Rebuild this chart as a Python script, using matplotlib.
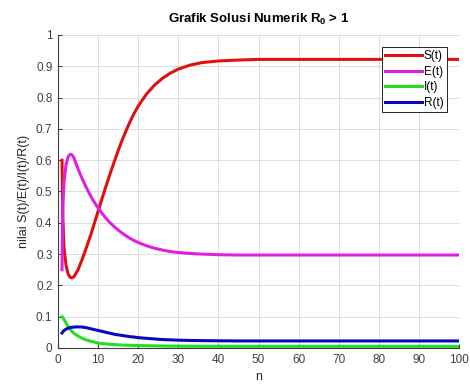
import numpy as np
import matplotlib
matplotlib.use("Agg")
import matplotlib.pyplot as plt

plt.rcParams['font.family'] = ['Liberation Sans', 'DejaVu Sans']
plt.rcParams['mathtext.fontset'] = 'custom'
plt.rcParams['mathtext.bf'] = 'Liberation Sans:bold'
plt.rcParams['mathtext.rm'] = 'Liberation Sans'

# time steps (denser near the start, where things change fast)
n = [1, 1.2, 1.5, 2, 2.5, 3, 3.5, 4, 5, 6, 7, 8, 9, 10, 11, 12, 13, 14, 15, 16,
     17, 18, 19, 20, 22, 24, 26, 28, 30, 33, 36, 40, 45, 50, 60, 70, 80, 90, 100]

S = [0.600, 0.420, 0.320, 0.265, 0.237, 0.226, 0.224, 0.228, 0.250, 0.282,
     0.318, 0.355, 0.395, 0.437, 0.478, 0.518, 0.557, 0.594, 0.630, 0.664,
     0.695, 0.724, 0.750, 0.773, 0.810, 0.839, 0.861, 0.878, 0.891, 0.904,
     0.912, 0.917, 0.920, 0.922, 0.922, 0.922, 0.922, 0.922, 0.922]

E = [0.250, 0.450, 0.530, 0.585, 0.610, 0.619, 0.617, 0.607, 0.572, 0.542,
     0.514, 0.489, 0.467, 0.447, 0.430, 0.414, 0.400, 0.388, 0.377, 0.367,
     0.358, 0.350, 0.343, 0.337, 0.327, 0.319, 0.313, 0.308, 0.305, 0.302,
     0.300, 0.298, 0.297, 0.297, 0.297, 0.297, 0.297, 0.297, 0.297]

I = [0.100, 0.097, 0.091, 0.080, 0.069, 0.060, 0.053, 0.047, 0.038, 0.031,
     0.026, 0.022, 0.019, 0.016, 0.014, 0.013, 0.012, 0.011, 0.010, 0.0095,
     0.009, 0.0085, 0.008, 0.0078, 0.0072, 0.0068, 0.0064, 0.0061, 0.0058, 0.0055,
     0.0053, 0.0051, 0.005, 0.005, 0.005, 0.005, 0.005, 0.005, 0.005]

R = [0.048, 0.052, 0.056, 0.060, 0.063, 0.065, 0.066, 0.067, 0.0675, 0.067,
     0.065, 0.062, 0.059, 0.056, 0.053, 0.050, 0.047, 0.044, 0.042, 0.040,
     0.038, 0.036, 0.035, 0.033, 0.031, 0.029, 0.027, 0.026, 0.025, 0.024,
     0.0235, 0.023, 0.0225, 0.0225, 0.0225, 0.0225, 0.0225, 0.0225, 0.0225]

xticks = np.arange(0, 101, 10)
yticks = [0, 0.1, 0.2, 0.3, 0.4, 0.5, 0.6, 0.7, 0.8, 0.9, 1]
ytick_labels = ['0', '0.1', '0.2', '0.3', '0.4', '0.5', '0.6', '0.7', '0.8', '0.9', '1']

fig = plt.figure(figsize=(4.7, 3.87), dpi=100)
ax = fig.add_axes([0.1234, 0.1008, 0.8532, 0.8088])

ax.plot(n, S, color='#e01010', lw=2.2, label='S(t)')
ax.plot(n, E, color='#e020e0', lw=2.2, label='E(t)')
ax.plot(n, I, color='#20e020', lw=2.2, label='I(t)')
ax.plot(n, R, color='#0808c0', lw=2.2, label='R(t)')

ax.set_xlim(0, 100)
ax.set_ylim(0, 1)
ax.set_xticks(xticks)
ax.set_yticks(yticks)
ax.set_yticklabels(ytick_labels)
ax.grid(True, color='#dcdcdc', lw=0.7)
ax.set_axisbelow(True)
ax.spines['top'].set_visible(False)
ax.spines['right'].set_visible(False)
ax.spines['left'].set_color('#404040')
ax.spines['bottom'].set_color('#404040')
ax.tick_params(direction='in', length=3, labelsize=8.5, colors='#404040', pad=4)

ax.set_xlabel('n', fontsize=9, color='#262626')
ax.set_ylabel('nilai S(t)/E(t)/I(t)/R(t)', fontsize=9, color='#262626')
ax.set_title(r'Grafik Solusi Numerik R$_\mathbf{0}$ > 1', fontsize=9.5,
             fontweight='bold', pad=9)

leg = ax.legend(loc='upper right', bbox_to_anchor=(0.97, 0.963), fontsize=8.5,
                handlelength=3.1, handletextpad=0.15, labelspacing=0.3,
                borderpad=0.3, borderaxespad=0, fancybox=False, framealpha=1)
leg.get_frame().set_edgecolor('#262626')
leg.get_frame().set_linewidth(0.7)

plt.savefig("out.png", dpi=100)
